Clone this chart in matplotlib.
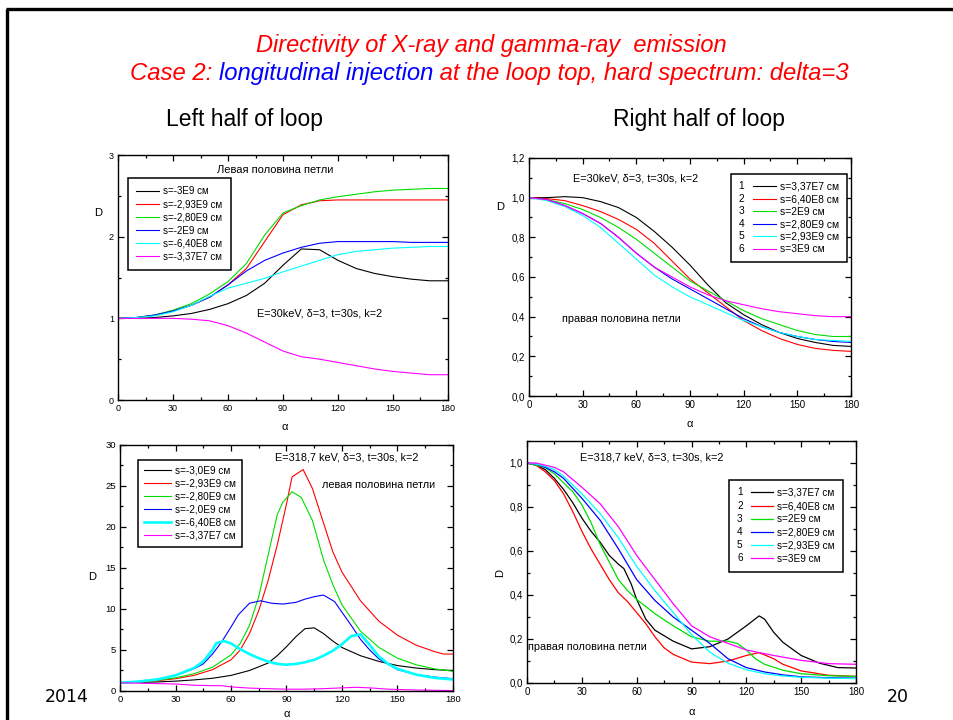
import matplotlib
matplotlib.use('Agg')
import matplotlib.pyplot as plt
from matplotlib.legend_handler import HandlerLine2D
from matplotlib.text import Text
from matplotlib.ticker import MultipleLocator

plt.rcParams['font.family'] = ['Liberation Sans', 'DejaVu Sans']

# --- E=30 keV, left half of loop ---
a1 = [0, 10, 20, 30, 40, 50, 60, 70, 80, 90, 100, 110, 120, 130, 140, 150, 160, 170, 180]
l30_black = [1.0, 1.0, 1.01, 1.03, 1.06, 1.11, 1.18, 1.28, 1.43, 1.65, 1.85, 1.84, 1.71, 1.61, 1.55, 1.51, 1.48, 1.46, 1.46]
l30_red = [1.0, 1.01, 1.04, 1.09, 1.16, 1.26, 1.41, 1.61, 1.94, 2.27, 2.39, 2.44, 2.45, 2.45, 2.45, 2.45, 2.45, 2.45, 2.45]
l30_green = [1.0, 1.01, 1.04, 1.10, 1.18, 1.30, 1.45, 1.67, 2.02, 2.29, 2.38, 2.45, 2.49, 2.52, 2.55, 2.57, 2.58, 2.59, 2.59]
l30_blue = [1.0, 1.01, 1.04, 1.09, 1.16, 1.26, 1.41, 1.58, 1.71, 1.80, 1.87, 1.92, 1.94, 1.94, 1.94, 1.94, 1.93, 1.93, 1.93]
l30_cyan = [1.0, 1.01, 1.03, 1.08, 1.16, 1.27, 1.37, 1.43, 1.49, 1.57, 1.64, 1.71, 1.78, 1.82, 1.84, 1.86, 1.87, 1.88, 1.88]
l30_magenta = [1.0, 1.0, 1.0, 1.0, 0.99, 0.97, 0.91, 0.82, 0.71, 0.60, 0.53, 0.50, 0.46, 0.42, 0.38, 0.35, 0.33, 0.31, 0.31]
left_labels_30 = ['s=-3E9 см', 's=-2,93E9 см', 's=-2,80E9 см', 's=-2E9 см', 's=-6,40E8 см', 's=-3,37E7 см']

# --- E=30 keV, right half of loop ---
a2 = [0, 10, 20, 30, 40, 50, 60, 70, 80, 90, 100, 110, 120, 130, 140, 150, 160, 170, 180]
r30_1 = [1.0, 1.0, 1.005, 1.0, 0.98, 0.95, 0.90, 0.83, 0.75, 0.66, 0.56, 0.47, 0.41, 0.36, 0.32, 0.29, 0.27, 0.255, 0.25]
r30_2 = [1.0, 0.995, 0.985, 0.96, 0.93, 0.89, 0.84, 0.77, 0.68, 0.59, 0.52, 0.45, 0.38, 0.33, 0.29, 0.26, 0.24, 0.23, 0.225]
r30_3 = [1.0, 0.99, 0.97, 0.94, 0.90, 0.85, 0.79, 0.72, 0.65, 0.58, 0.53, 0.48, 0.43, 0.39, 0.36, 0.33, 0.31, 0.30, 0.30]
r30_4 = [1.0, 0.99, 0.96, 0.92, 0.87, 0.80, 0.72, 0.65, 0.59, 0.54, 0.49, 0.44, 0.39, 0.35, 0.32, 0.30, 0.285, 0.275, 0.27]
r30_5 = [1.0, 0.985, 0.955, 0.91, 0.85, 0.77, 0.69, 0.61, 0.55, 0.50, 0.46, 0.42, 0.38, 0.35, 0.32, 0.30, 0.285, 0.28, 0.275]
r30_6 = [1.0, 0.99, 0.96, 0.92, 0.87, 0.80, 0.72, 0.65, 0.60, 0.55, 0.51, 0.48, 0.46, 0.44, 0.425, 0.415, 0.405, 0.40, 0.40]
right_labels_30 = ['s=3,37E7 см', 's=6,40E8 см', 's=2E9 см', 's=2,80E9 см', 's=2,93E9 см', 's=3E9 см']

# --- E=318.7 keV, left half of loop ---
l318_black_a = [0, 10, 20, 30, 40, 50, 60, 70, 80, 85, 90, 95, 100, 105, 110, 115, 120, 130, 140, 150, 160, 170, 180]
l318_black = [1.0, 1.05, 1.1, 1.2, 1.35, 1.55, 1.9, 2.5, 3.4, 4.3, 5.4, 6.6, 7.6, 7.7, 7.0, 6.1, 5.3, 4.3, 3.6, 3.1, 2.8, 2.6, 2.5]
l318_red_a = [0, 10, 20, 30, 40, 50, 60, 65, 70, 75, 80, 85, 90, 93, 99, 104, 110, 115, 120, 130, 140, 150, 160, 170, 175, 180]
l318_red = [1.0, 1.1, 1.25, 1.5, 1.9, 2.6, 3.8, 5.0, 7.0, 9.8, 13.4, 17.8, 22.8, 26.1, 27.0, 24.7, 20.5, 17.0, 14.5, 11.0, 8.5, 6.8, 5.6, 4.8, 4.5, 4.5]
l318_green_a = [0, 10, 20, 30, 40, 50, 60, 65, 70, 75, 80, 85, 88, 93, 98, 104, 110, 115, 120, 130, 140, 150, 160, 170, 180]
l318_green = [1.0, 1.1, 1.3, 1.6, 2.1, 2.9, 4.4, 5.8, 8.0, 11.5, 16.5, 21.5, 23.0, 24.3, 23.6, 20.8, 16.0, 13.0, 10.5, 7.3, 5.3, 4.0, 3.2, 2.7, 2.4]
l318_blue_a = [0, 10, 20, 30, 40, 45, 50, 55, 60, 64, 70, 76, 82, 88, 95, 100, 105, 110, 116, 120, 125, 130, 135, 140, 150, 160, 170, 180]
l318_blue = [1.0, 1.15, 1.4, 1.9, 2.7, 3.3, 4.5, 6.0, 7.8, 9.3, 10.7, 11.0, 10.7, 10.6, 10.8, 11.2, 11.5, 11.7, 10.9, 9.6, 8.0, 6.3, 5.0, 3.9, 2.6, 2.0, 1.7, 1.5]
l318_cyan_a = [0, 10, 20, 30, 40, 45, 50, 52, 56, 60, 65, 70, 75, 80, 85, 90, 95, 100, 105, 110, 115, 120, 125, 130, 135, 140, 145, 150, 160, 170, 180]
l318_cyan = [1.0, 1.15, 1.4, 1.9, 2.8, 3.6, 5.0, 5.8, 6.1, 5.8, 5.1, 4.5, 4.0, 3.6, 3.3, 3.2, 3.3, 3.5, 3.8, 4.3, 4.9, 5.7, 6.7, 6.9, 5.6, 4.2, 3.3, 2.7, 2.0, 1.6, 1.4]
l318_magenta_a = [0, 20, 30, 40, 50, 55, 60, 70, 80, 90, 100, 110, 120, 128, 135, 145, 160, 180]
l318_magenta = [1.0, 0.9, 0.85, 0.7, 0.65, 0.65, 0.5, 0.35, 0.28, 0.22, 0.22, 0.28, 0.38, 0.45, 0.38, 0.22, 0.12, 0.05]
left_labels_318 = ['s=-3,0E9 см', 's=-2,93E9 см', 's=-2,80E9 см', 's=-2,0E9 см', 's=-6,40E8 см', 's=-3,37E7 см']

# --- E=318.7 keV, right half of loop ---
r318_1_a = [0, 5, 10, 15, 20, 25, 30, 35, 40, 45, 50, 53, 57, 60, 65, 70, 80, 90, 100, 110, 120, 127, 130, 135, 140, 150, 160, 170, 180]
r318_1 = [1.0, 0.99, 0.97, 0.93, 0.88, 0.82, 0.75, 0.69, 0.64, 0.58, 0.54, 0.52, 0.45, 0.38, 0.29, 0.24, 0.19, 0.155, 0.165, 0.2, 0.26, 0.305, 0.29, 0.23, 0.185, 0.125, 0.09, 0.07, 0.068]
r318_2_a = [0, 5, 10, 15, 20, 25, 30, 35, 40, 45, 50, 55, 60, 65, 70, 75, 80, 90, 100, 110, 120, 127, 135, 140, 150, 165, 180]
r318_2 = [1.0, 0.99, 0.96, 0.92, 0.86, 0.78, 0.69, 0.61, 0.54, 0.47, 0.41, 0.37, 0.32, 0.27, 0.21, 0.16, 0.13, 0.095, 0.088, 0.10, 0.125, 0.138, 0.11, 0.085, 0.055, 0.035, 0.03]
r318_3_a = [0, 5, 10, 15, 20, 25, 30, 35, 40, 45, 50, 55, 60, 70, 80, 90, 100, 110, 115, 120, 125, 130, 140, 150, 165, 180]
r318_3 = [1.0, 0.99, 0.98, 0.95, 0.91, 0.87, 0.81, 0.73, 0.63, 0.55, 0.47, 0.42, 0.38, 0.315, 0.26, 0.21, 0.19, 0.19, 0.18, 0.15, 0.11, 0.085, 0.058, 0.042, 0.033, 0.03]
r318_4_a = [0, 5, 10, 15, 20, 30, 40, 50, 60, 70, 80, 90, 100, 110, 120, 130, 140, 150, 165, 180]
r318_4 = [1.0, 0.995, 0.98, 0.96, 0.93, 0.84, 0.74, 0.61, 0.47, 0.375, 0.30, 0.24, 0.18, 0.11, 0.07, 0.05, 0.037, 0.028, 0.024, 0.022]
r318_5_a = [0, 5, 10, 15, 20, 30, 40, 50, 60, 70, 80, 90, 100, 110, 120, 130, 140, 150, 165, 180]
r318_5 = [1.0, 0.995, 0.985, 0.97, 0.94, 0.86, 0.77, 0.66, 0.53, 0.42, 0.32, 0.22, 0.14, 0.09, 0.06, 0.042, 0.032, 0.026, 0.022, 0.02]
r318_6_a = [0, 5, 10, 15, 20, 30, 40, 50, 60, 70, 80, 90, 100, 110, 120, 135, 150, 165, 180]
r318_6 = [1.0, 1.0, 0.99, 0.98, 0.96, 0.89, 0.815, 0.71, 0.58, 0.47, 0.36, 0.26, 0.21, 0.18, 0.15, 0.125, 0.103, 0.088, 0.085]
right_labels_318 = ['s=3,37E7 см', 's=6,40E8 см', 's=2E9 см', 's=2,80E9 см', 's=2,93E9 см', 's=3E9 см']

curve_numbers = ['1', '2', '3', '4', '5', '6']
colors = ['black', 'red', '#00dd00', 'blue', 'cyan', 'magenta']
alpha_ticks = [0, 30, 60, 90, 120, 150, 180]


class NumberedLine(HandlerLine2D):
    # legend entry drawn as "N ----"
    def __init__(self, num, **kw):
        super().__init__(**kw)
        self.num = num

    def create_artists(self, legend, orig_handle, xdescent, ydescent, width, height, fontsize, trans):
        shift = 0.38 * width
        arts = super().create_artists(legend, orig_handle, xdescent - shift, ydescent,
                                      width - shift, height, fontsize, trans)
        t = Text(-xdescent, height / 2 - ydescent, self.num, fontsize=fontsize,
                 va='center', ha='left', transform=trans, family='Liberation Sans')
        return list(arts) + [t]


def style_axes(ax, yticks, ylabels, yminor, ylim, fs):
    ax.set_xlim(0, 180)
    ax.set_ylim(*ylim)
    ax.set_xticks(alpha_ticks)
    ax.set_yticks(yticks, ylabels)
    ax.xaxis.set_minor_locator(MultipleLocator(15))
    ax.yaxis.set_minor_locator(MultipleLocator(yminor))
    ax.tick_params(which='both', direction='in', top=True, right=True, labelsize=fs, pad=3, width=0.9)
    ax.tick_params(which='major', length=4.5)
    ax.tick_params(which='minor', length=2.5)
    for sp in ax.spines.values():
        sp.set_linewidth(1.0)


fig = plt.figure(figsize=(9.54, 7.2), dpi=100)

page = fig.add_axes([0, 0, 1, 1])
page.set_xlim(0, 1)
page.set_ylim(0, 1)
page.axis('off')
page.plot([0.0065, 1.0], [0.9875, 0.9875], color='black', lw=2.4, solid_capstyle='butt')
page.plot([0.0075, 0.0075], [0.0, 0.9875], color='black', lw=2.4, solid_capstyle='butt')

page.text(0.515, 0.937, 'Directivity of X-ray and gamma-ray  emission', color='red',
          style='italic', fontsize=17, ha='center', va='center')
t1 = page.text(0.136, 0.898, 'Case 2: ', color='red', style='italic', fontsize=17.2, ha='left', va='center')
t2 = page.annotate('longitudinal injection', xy=(1, 0), xycoords=t1, color='blue', style='italic',
                   fontsize=17.2, ha='left', va='bottom')
page.annotate(' at the loop top, hard spectrum: delta=3', xy=(1, 0), xycoords=t2, color='red',
              style='italic', fontsize=17.2, ha='left', va='bottom')
page.text(0.256, 0.834, 'Left half of loop', fontsize=16.5, ha='center', va='center')
page.text(0.733, 0.834, 'Right half of loop', fontsize=16.5, ha='center', va='center')
page.text(0.047, 0.032, '2014', fontsize=12.5, family='DejaVu Sans', ha='left', va='center')
page.text(0.941, 0.032, '20', fontsize=12.5, family='DejaVu Sans', ha='center', va='center')

# top left: 30 keV, left half
ax1 = fig.add_axes([0.1237, 0.4444, 0.3459, 0.3403])
for y, c in zip([l30_black, l30_red, l30_green, l30_blue, l30_cyan, l30_magenta], colors):
    ax1.plot(a1, y, color=c, lw=0.8)
style_axes(ax1, [0, 1, 2, 3], ['0', '1', '2', '3'], 0.5, (0, 3), 6.5)
ax1.legend(left_labels_30, loc='upper left', bbox_to_anchor=(0.03, 0.906), borderaxespad=0,
           fontsize=7, handlelength=2.3, handletextpad=0.5, labelspacing=0.32, borderpad=0.85,
           fancybox=False, edgecolor='black', framealpha=1).get_frame().set_linewidth(1.1)
ax1.text(0.476, 0.939, 'Левая половина петли', transform=ax1.transAxes, fontsize=8, ha='center', va='center')
ax1.text(0.421, 0.355, 'E=30keV, δ=3, t=30s, k=2', transform=ax1.transAxes, fontsize=7.8, ha='left', va='center')
ax1.set_ylabel('D', rotation=0, fontsize=8, va='center', ha='center')
ax1.yaxis.set_label_coords(-0.061, 0.763)
ax1.set_xlabel('α', fontsize=8, va='center')
ax1.xaxis.set_label_coords(0.506, -0.11)

# top right: 30 keV, right half
ax2 = fig.add_axes([0.5545, 0.45, 0.3375, 0.3306])
lines2 = []
for y, c in zip([r30_1, r30_2, r30_3, r30_4, r30_5, r30_6], colors):
    lines2 += ax2.plot(a2, y, color=c, lw=0.8)
style_axes(ax2, [0, 0.2, 0.4, 0.6, 0.8, 1.0, 1.2], ['0,0', '0,2', '0,4', '0,6', '0,8', '1,0', '1,2'],
           0.1, (0, 1.2), 7)
leg2 = ax2.legend(lines2, right_labels_30, loc='upper left', bbox_to_anchor=(0.627, 0.933), borderaxespad=0,
                  fontsize=7.4, handlelength=3.6, handletextpad=0.4, labelspacing=0.25, borderpad=0.75,
                  fancybox=False, edgecolor='black', framealpha=1,
                  handler_map={ln: NumberedLine(n) for ln, n in zip(lines2, curve_numbers)})
leg2.get_frame().set_linewidth(1.1)
ax2.text(0.137, 0.912, 'E=30keV, δ=3, t=30s, k=2', transform=ax2.transAxes, fontsize=7.8, ha='left', va='center')
ax2.text(0.102, 0.324, 'правая половина петли', transform=ax2.transAxes, fontsize=7.8, ha='left', va='center')
ax2.set_ylabel('D', rotation=0, fontsize=8, va='center', ha='center')
ax2.yaxis.set_label_coords(-0.09, 0.794)
ax2.set_xlabel('α', fontsize=8, va='center')
ax2.xaxis.set_label_coords(0.5, -0.118)

# bottom left: 318.7 keV, left half
ax3 = fig.add_axes([0.1258, 0.0403, 0.349, 0.3417])
series3 = [(l318_black_a, l318_black), (l318_red_a, l318_red), (l318_green_a, l318_green),
           (l318_blue_a, l318_blue), (l318_cyan_a, l318_cyan), (l318_magenta_a, l318_magenta)]
for (x, y), c in zip(series3, colors):
    ax3.plot(x, y, color=c, lw=1.9 if c == 'cyan' else 0.8)
style_axes(ax3, [0, 5, 10, 15, 20, 25, 30], ['0', '5', '10', '15', '20', '25', '30'], 2.5, (0, 30), 6.8)
ax3.legend(left_labels_318, loc='upper left', bbox_to_anchor=(0.054, 0.939), borderaxespad=0,
           fontsize=7.2, handlelength=2.7, handletextpad=0.4, labelspacing=0.3, borderpad=0.6,
           fancybox=False, edgecolor='black', framealpha=1).get_frame().set_linewidth(1.1)
ax3.text(0.465, 0.947, 'E=318,7 keV, δ=3, t=30s, k=2', transform=ax3.transAxes, fontsize=7.8, ha='left', va='center')
ax3.text(0.607, 0.837, 'левая половина петли', transform=ax3.transAxes, fontsize=7.8, ha='left', va='center')
ax3.set_ylabel('D', rotation=0, fontsize=8, va='center', ha='center')
ax3.yaxis.set_label_coords(-0.084, 0.463)
ax3.set_xlabel('α', fontsize=8, va='center')
ax3.xaxis.set_label_coords(0.5, -0.095)

# bottom right: 318.7 keV, right half
ax4 = fig.add_axes([0.5524, 0.0514, 0.3449, 0.3361])
series4 = [(r318_1_a, r318_1), (r318_2_a, r318_2), (r318_3_a, r318_3),
           (r318_4_a, r318_4), (r318_5_a, r318_5), (r318_6_a, r318_6)]
lines4 = []
for (x, y), c in zip(series4, colors):
    lines4 += ax4.plot(x, y, color=c, lw=0.9)
style_axes(ax4, [0, 0.2, 0.4, 0.6, 0.8, 1.0], ['0,0', '0,2', '0,4', '0,6', '0,8', '1,0'], 0.1, (0, 1.1), 7)
leg4 = ax4.legend(lines4, right_labels_318, loc='upper left', bbox_to_anchor=(0.614, 0.839), borderaxespad=0,
                  fontsize=7.2, handlelength=3.6, handletextpad=0.4, labelspacing=0.32, borderpad=0.8,
                  fancybox=False, edgecolor='black', framealpha=1,
                  handler_map={ln: NumberedLine(n) for ln, n in zip(lines4, curve_numbers)})
leg4.get_frame().set_linewidth(1.1)
ax4.text(0.161, 0.93, 'E=318,7 keV, δ=3, t=30s, k=2', transform=ax4.transAxes, fontsize=7.8, ha='left', va='center')
ax4.text(0.003, 0.149, 'правая половина петли', transform=ax4.transAxes, fontsize=7.8, ha='left', va='center')
ax4.set_ylabel('D', fontsize=8, va='center', ha='center')
ax4.yaxis.set_label_coords(-0.082, 0.455)
ax4.set_xlabel('α', fontsize=8, va='center')
ax4.xaxis.set_label_coords(0.5, -0.12)

plt.savefig('out.png', dpi=100)
